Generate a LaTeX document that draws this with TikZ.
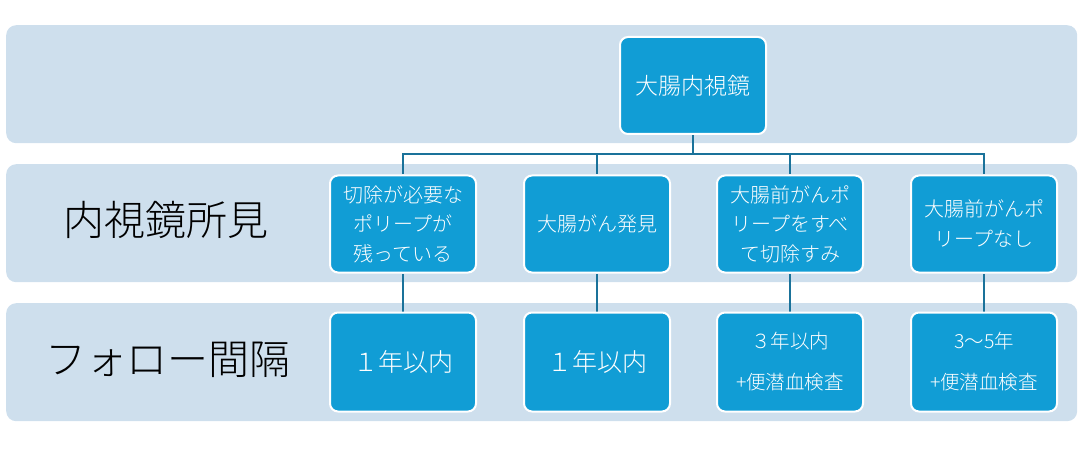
\documentclass[tikz,border=0pt]{standalone}
\usepackage{fontspec}
\newfontfamily\cjk{Noto Sans CJK JP Light}
\usetikzlibrary{positioning}
\definecolor{bandc}{RGB}{206,223,237}
\definecolor{boxc}{RGB}{17,157,213}
\definecolor{linec}{RGB}{26,114,154}
\pgfdeclarelayer{bg}
\pgfdeclarelayer{mid}
\pgfsetlayers{bg,mid,main}
\tikzset{
  band/.style={fill=bandc, rounded corners=10pt, minimum width=1071pt, minimum height=118pt, inner sep=0pt, anchor=north west},
  bx/.style={fill=boxc, draw=white, line width=2pt, rounded corners=8pt, minimum width=146pt, minimum height=97pt, inner sep=0pt, text=white, align=center},
  lbl/.style={font=\cjk\fontsize{41}{41}\selectfont, text=black, inner sep=0pt},
  conn/.style={draw=linec, line width=2.3pt},
}
\begin{document}
\begin{tikzpicture}[x=1pt,y=-1pt]
\useasboundingbox (0,0) rectangle (1079,449);
\begin{pgfonlayer}{bg}
\node[band] (b1) at (6,25) {};
\node[band] (b2) at (6,164) {};
\node[band] (b3) at (6,303) {};
\end{pgfonlayer}
\node[lbl] (l2) at (166,220) {内視鏡所見};
\node[lbl] (l3) at (168,360) {フォロー間隔};
\node[bx, font=\cjk\fontsize{23}{23}\selectfont] (top) at (693,85.5) {大腸内視鏡};
\node[bx, font=\cjk\fontsize{20}{29.5}\selectfont] (c1) at (403,224) {切除が必要な\\ポリープが\\残っている};
\node[bx, font=\cjk\fontsize{20}{29.5}\selectfont] (c2) at (597,224) {大腸がん発見};
\node[bx, font=\cjk\fontsize{20}{29.5}\selectfont] (c3) at (790,224) {大腸前がんポ\\リープをすべ\\て切除すみ};
\node[bx, font=\cjk\fontsize{20}{30}\selectfont] (c4) at (984,224) {大腸前がんポ\\リープなし};
\node[bx, minimum height=99pt, font=\cjk\fontsize{25}{25}\selectfont] (f1) at (403,362) {１年以内};
\node[bx, minimum height=99pt, font=\cjk\fontsize{25}{25}\selectfont] (f2) at (597,362) {１年以内};
\node[bx, minimum height=99pt, font=\cjk\fontsize{19.5}{41}\selectfont] (f3) at (790,362) {３年以内\\+便潜血検査};
\node[bx, minimum height=99pt, font=\cjk\fontsize{19.5}{41}\selectfont] (f4) at (984,362) {3～5年\\+便潜血検査};
\coordinate (bus) at (0,154);
\begin{pgfonlayer}{mid}
\draw[conn] (top.south) -- (top.south |- bus);
\foreach \c in {c1,c2,c3,c4}{
  \draw[conn] (top.south |- bus) -| (\c.north);
}
\foreach \c/\f in {c1/f1,c2/f2,c3/f3,c4/f4}{
  \draw[conn] (\c.south) -- (\f.north);
}
\end{pgfonlayer}
\end{tikzpicture}
\end{document}
